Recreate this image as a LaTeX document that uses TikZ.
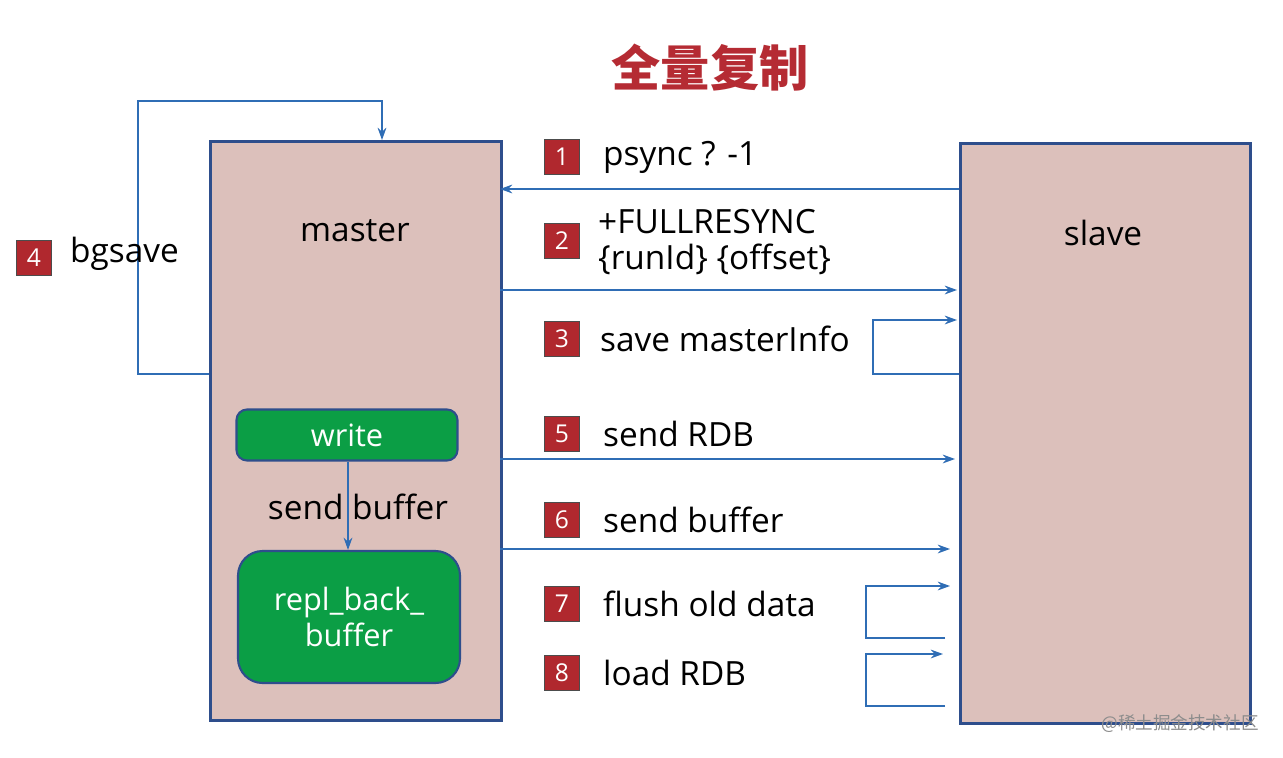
\documentclass[tikz,border=0pt]{standalone}
\usepackage{fontspec}
\setmainfont{Open Sans}
\newfontfamily\cjk{Noto Sans CJK SC}
\usetikzlibrary{arrows.meta}
\definecolor{boxfill}{HTML}{DCC0BB}
\definecolor{boxline}{HTML}{2E4E8C}
\definecolor{ln}{HTML}{2F6DB5}
\definecolor{badge}{HTML}{B0282E}
\definecolor{grn}{HTML}{0B9E45}
\definecolor{ttl}{HTML}{B52B33}
\begin{document}
\begin{tikzpicture}[x=0.02cm,y=-0.02cm,
  box/.style={draw=boxline,line width=1.5pt,fill=boxfill},
  bd/.style={draw=black!70,line width=0.8pt,fill=badge,text=white,minimum size=0.7cm,inner sep=0pt,font=\fontsize{14}{14}\selectfont},
  lbl/.style={anchor=west,font=\fontsize{19}{21}\selectfont,align=left},
  con/.style={draw=ln,line width=0.9pt,-{Stealth[length=7pt,width=5pt]}},
  gb/.style={draw=boxline,line width=1.2pt,fill=grn,rounded corners=6pt,text=white,font=\fontsize{17.5}{20}\selectfont,align=center}]
\useasboundingbox (0,0) rectangle (1283,757);
\fill[white] (0,0) rectangle (1283,757);
\node[text=ttl,font=\cjk\bfseries\fontsize{28}{30}\selectfont] (t) at (710,68) {全量复制};
\node[box,minimum width=291*0.02cm,minimum height=579*0.02cm,anchor=north west] (m) at (209,140) {};
\node[box,minimum width=290*0.02cm,minimum height=580*0.02cm,anchor=north west] (s) at (959,142) {};
\node[font=\fontsize{19}{21}\selectfont] at (355,231) {master};
\node[font=\fontsize{19}{21}\selectfont] at (1103,233) {slave};
\node[gb,minimum width=221*0.02cm,minimum height=51*0.02cm] (w) at (347,435) {write};
\node[gb,rounded corners=14pt,minimum width=222*0.02cm,minimum height=132*0.02cm] (r) at (349,617) {repl\_back\_\\buffer};
\draw[con] (w.south -| 348,0) -- (r.north -| 348,0);
\node[font=\fontsize{19}{21}\selectfont] at (358,507) {send buffer};
% bgsave loop
\coordinate (b0) at (209,374);
\draw[con] (b0) -- (138,374) -- (138,101) -- (382,101) -- (382,140);
\node[bd] at (34,258) {4};
\node[lbl] at (64,254) {bgsave};
% badges
\foreach \n/\y in {1/157,2/241,3/339,5/434,6/520,7/604,8/673}{\node[bd] at (562,\y) {\n};}
\node[lbl] at (597,157) {psync ? -1};
\node[lbl] at (592,242) {+FULLRESYNC\\\{runId\} \{offset\}};
\node[lbl] at (594,339) {save masterInfo};
\node[lbl] at (597,434) {send RDB};
\node[lbl] at (597,520) {send buffer};
\node[lbl] at (597,604) {flush old data};
\node[lbl] at (597,673) {load RDB};
% arrows
\draw[con] (959,189) -- (500,189);
\draw[con] (500,290) -- (957,290);
\draw[con] (959,374) -- (873,374) -- (873,320) -- (957,320);
\draw[con] (500,459) -- (955,459);
\draw[con] (500,549) -- (950,549);
\draw[con] (945,638) -- (866,638) -- (866,586) -- (950,586);
\draw[con] (945,706) -- (866,706) -- (866,654) -- (943,654);
\node[text=black!45,font=\cjk\fontsize{10}{12}\selectfont] at (1180,724) {@稀土掘金技术社区};
\end{tikzpicture}
\end{document}
